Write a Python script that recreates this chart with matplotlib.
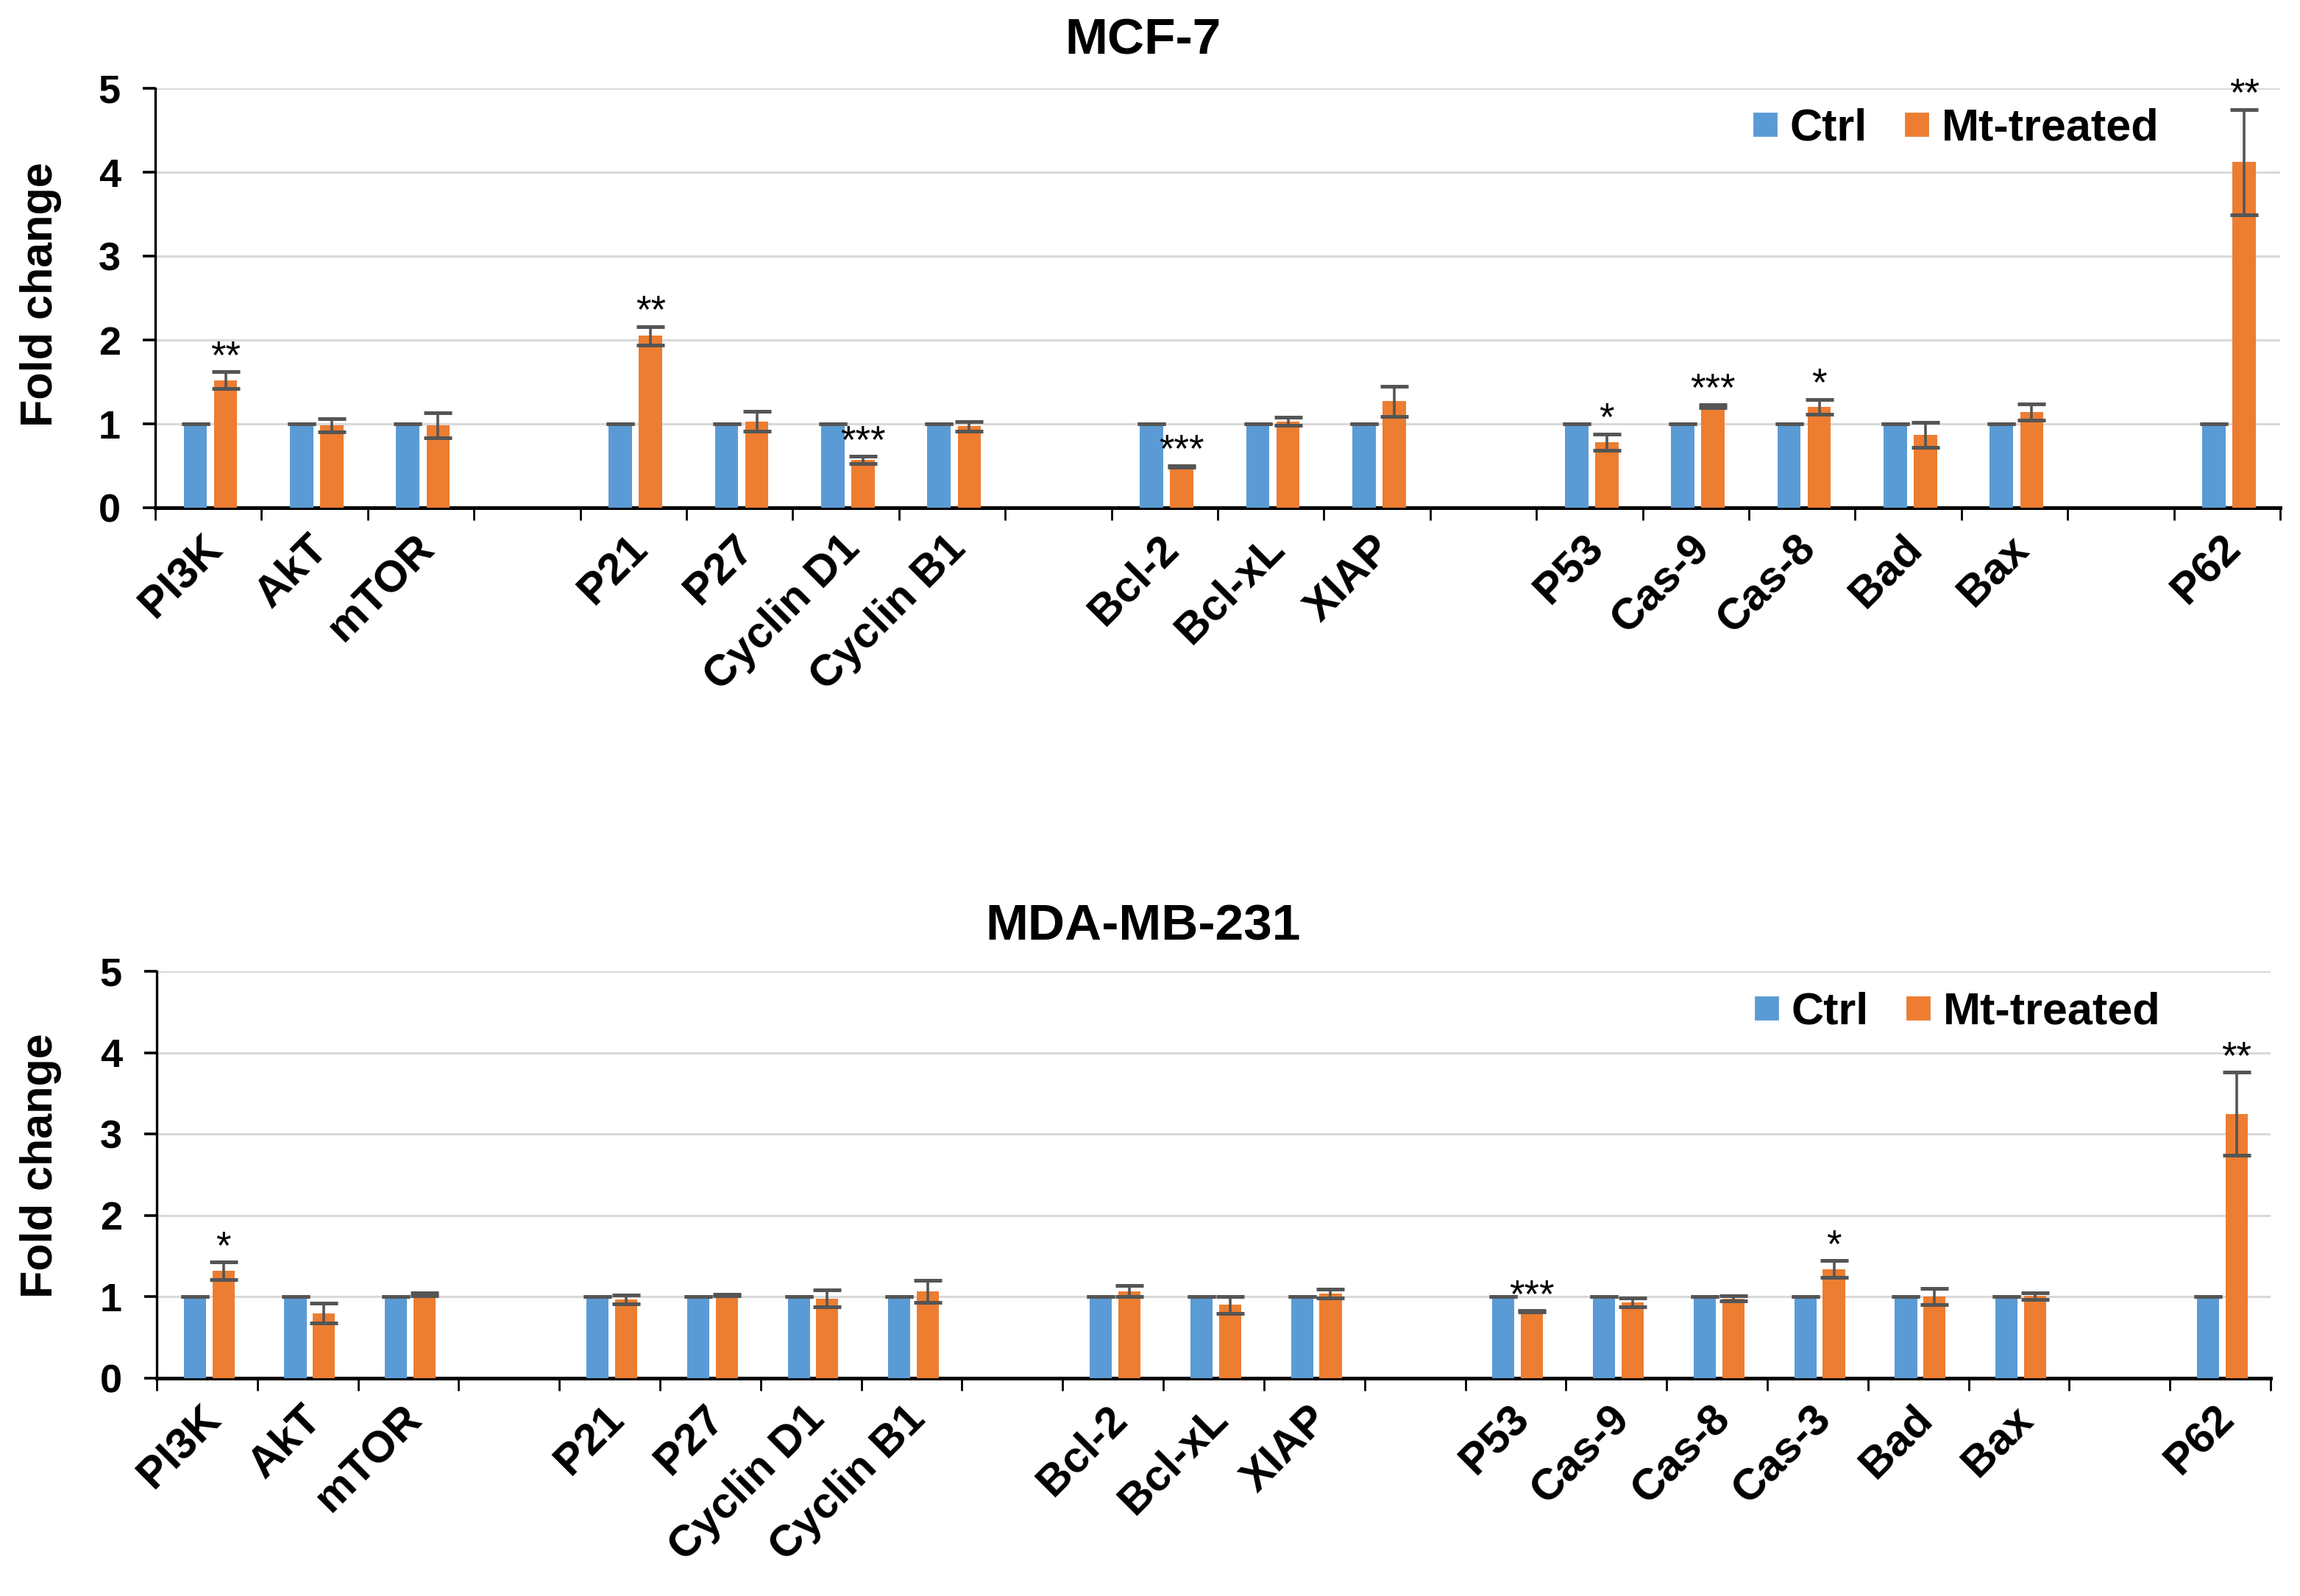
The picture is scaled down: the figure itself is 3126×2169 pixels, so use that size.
import matplotlib
matplotlib.use("Agg")
import matplotlib.pyplot as plt
import numpy as np
from matplotlib.lines import Line2D
from matplotlib.transforms import ScaledTranslation, blended_transform_factory

plt.rcParams['font.family'] = ['Liberation Sans', 'DejaVu Sans']

# ---------------- data ----------------
nan = np.nan
mcf7_labels = ["PI3K", "AkT", "mTOR", "", "P21", "P27", "Cyclin D1", "Cyclin B1", "",
               "Bcl-2", "Bcl-xL", "XIAP", "", "P53", "Cas-9", "Cas-8", "Bad", "Bax", "", "P62"]
mcf7_ctrl = [1, 1, 1, nan, 1, 1, 1, 1, nan, 1, 1, 1, nan, 1, 1, 1, 1, 1, nan, 1]
mcf7_treated = [1.52, 0.98, 0.98, nan, 2.05, 1.03, 0.57, 0.97, nan,
                0.49, 1.03, 1.27, nan, 0.78, 1.21, 1.20, 0.87, 1.14, nan, 4.12]
mcf7_err = [0.10, 0.08, 0.15, nan, 0.11, 0.12, 0.04, 0.06, nan,
            0.01, 0.05, 0.18, nan, 0.10, 0.02, 0.09, 0.15, 0.10, nan, 0.63]
mcf7_sig = ["**", "", "", "", "**", "", "***", "", "",
            "***", "", "", "", "*", "***", "*", "", "", "", "**"]

mda_labels = ["PI3K", "AkT", "mTOR", "", "P21", "P27", "Cyclin D1", "Cyclin B1", "",
              "Bcl-2", "Bcl-xL", "XIAP", "", "P53", "Cas-9", "Cas-8", "Cas-3", "Bad", "Bax", "", "P62"]
mda_ctrl = [1, 1, 1, nan, 1, 1, 1, 1, nan, 1, 1, 1, nan, 1, 1, 1, 1, 1, 1, nan, 1]
mda_treated = [1.32, 0.80, 1.03, nan, 0.97, 1.02, 0.98, 1.07, nan,
               1.07, 0.90, 1.04, nan, 0.82, 0.93, 0.98, 1.34, 1.00, 1.01, nan, 3.25]
mda_err = [0.105, 0.125, 0.015, nan, 0.055, 0.01, 0.105, 0.135, nan,
           0.07, 0.10, 0.05, nan, 0.01, 0.055, 0.035, 0.105, 0.10, 0.04, nan, 0.51]
mda_sig = ["*", "", "", "", "", "", "", "", "",
           "", "", "", "", "***", "", "", "*", "", "", "", "**"]

series_names = ["Ctrl", "Mt-treated"]
y_ticks = [0, 1, 2, 3, 4, 5]

# ---------------- style ----------------
BLUE = "#5B9BD5"
ORANGE = "#ED7D31"
ERR = "#555555"
GRID = "#D9D9D9"

W, H, DPI = 3126, 2169, 200
fig = plt.figure(figsize=(W / DPI, H / DPI), dpi=DPI)


def draw_panel(rect, title, title_y, ylabel_y, labels, ctrl, treated, err, sig, leg_anchor):
    ax = fig.add_axes(rect)
    n = len(labels)
    x = np.arange(n)
    ctrl = np.array(ctrl, float)
    treated = np.array(treated, float)
    err = np.array(err, float)
    bw = 0.22
    off = 0.142
    shift = 0.02
    ax.bar(x + shift - off, ctrl, bw, color=BLUE, zorder=3)
    ax.bar(x + shift + off, treated, bw, color=ORANGE, zorder=3)
    ek = dict(fmt="none", ecolor=ERR, elinewidth=1.3, capsize=6.8, capthick=1.8, zorder=4)
    ax.errorbar(x + shift - off, ctrl, yerr=np.where(np.isnan(ctrl), nan, 0.0), **ek)
    ax.errorbar(x + shift + off, treated, yerr=err, **ek)
    # significance stars
    for xi, v, e, s in zip(x, treated, err, sig):
        if s:
            ax.annotate(s, (xi + shift + off, v + e), xytext=(0, 2), textcoords="offset points",
                        ha="center", va="baseline", fontsize=19, color="black")

    ax.set_xlim(0 - 0.5, n - 0.5)
    ax.set_ylim(0, 5)
    ax.set_yticks(y_ticks)
    ax.set_yticklabels([str(t) for t in y_ticks], fontsize=19.5, fontweight="bold")
    ax.yaxis.grid(True, color=GRID, linewidth=1.1, zorder=0)
    ax.set_axisbelow(True)
    ax.tick_params(axis="y", length=6, width=1.3, pad=11, direction="out")
    # x ticks at category boundaries
    ax.set_xticks(np.arange(n + 1) - 0.5)
    ax.set_xticklabels([])
    ax.tick_params(axis="x", length=6, width=1.0, direction="out")
    for sp in ["top", "right"]:
        ax.spines[sp].set_visible(False)
    ax.spines["left"].set_linewidth(1.2)
    ax.spines["bottom"].set_linewidth(1.8)
    # category labels
    trans = blended_transform_factory(ax.transData, ax.transAxes) + \
        ScaledTranslation(0.05, -0.235, fig.dpi_scale_trans)
    for xi, lab in zip(x, labels):
        if lab:
            ax.text(xi, 0, lab, transform=trans, rotation=45, rotation_mode="anchor",
                    ha="right", va="center", fontsize=21.5, fontweight="bold")
    # titles / labels
    fig.text(0.497, title_y, title, ha="center", va="center", fontsize=25, fontweight="bold")
    fig.text(0.0176, ylabel_y, "Fold change", rotation=90, ha="center", va="center",
             fontsize=22, fontweight="bold")
    handles = [Line2D([], [], marker="s", ls="", color=BLUE, markersize=10.5),
               Line2D([], [], marker="s", ls="", color=ORANGE, markersize=10.5)]
    ax.legend(handles, series_names, loc="center right", bbox_to_anchor=leg_anchor,
              ncol=2, frameon=False, handlelength=0.6, handletextpad=0.25,
              columnspacing=0.8, borderpad=0, borderaxespad=0,
              prop=dict(size=22, weight="bold"))
    return ax


draw_panel([211 / W, 1 - 690 / H, 2888 / W, 570 / H], "MCF-7", 1 - 56 / H, 1 - 400 / H,
           mcf7_labels, mcf7_ctrl, mcf7_treated, mcf7_err, mcf7_sig, (0.943, 0.904))
draw_panel([213 / W, 1 - 1873 / H, 2873 / W, 553 / H], "MDA-MB-231", 1 - 1259 / H, 1 - 1584 / H,
           mda_labels, mda_ctrl, mda_treated, mda_err, mda_sig, (0.948, 0.899))

fig.savefig("out.png", dpi=DPI, facecolor="white")
